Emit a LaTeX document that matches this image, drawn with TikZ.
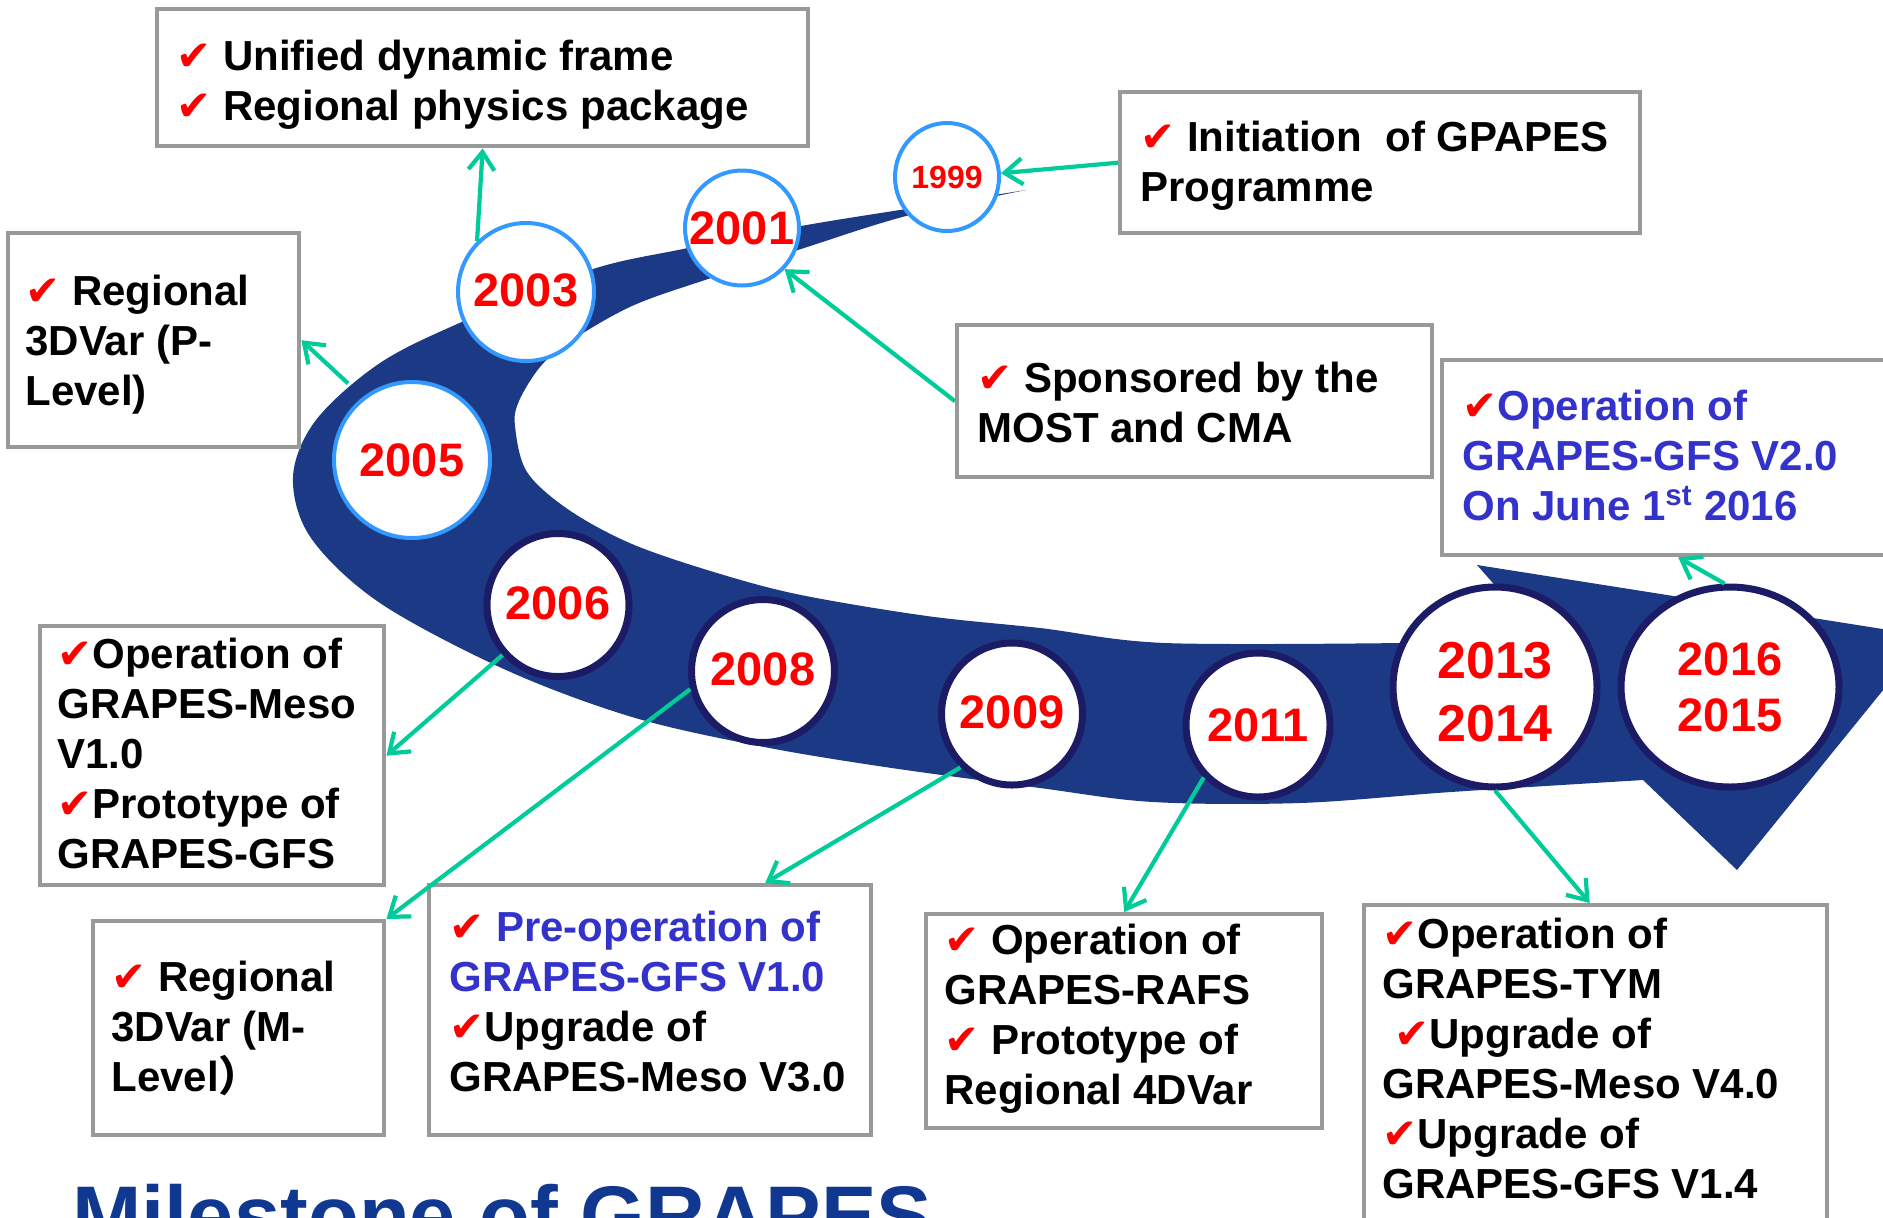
\documentclass[tikz,border=0pt]{standalone}
\usepackage{fontspec}
\setmainfont{Liberation Sans}
\newfontfamily\symfont{DejaVu Sans}
\newfontfamily\cjk{Noto Sans CJK SC}
\usetikzlibrary{shapes.geometric,arrows.meta}
\definecolor{bandblue}{RGB}{27,57,133}
\definecolor{ltblue}{RGB}{51,153,255}
\definecolor{navyc}{RGB}{28,28,102}
\definecolor{tealc}{RGB}{0,204,153}
\definecolor{boxgray}{RGB}{153,153,153}
\definecolor{blu}{RGB}{51,51,204}
\definecolor{titleblue}{RGB}{17,56,145}
\definecolor{ckred}{RGB}{255,0,0}
\newcommand\ck{{\symfont\mdseries\color{ckred}✔}}
\begin{document}
\begin{tikzpicture}[x=0.5pt,y=-0.5pt,
  box/.style={draw=boxgray, line width=2.2pt, fill=white, inner sep=0pt, anchor=north west},
  txt/.style={anchor=north west, inner sep=0pt, align=left, font=\bfseries\fontsize{21}{25}\selectfont},
  yr/.style={ellipse, fill=white, inner sep=-15pt, text=ckred, align=center, font=\bfseries\fontsize{23.5}{28}\selectfont},
  early/.style={yr, draw=ltblue, line width=2pt},
  late/.style={yr, draw=navyc, line width=3.5pt},
  arr/.style={draw=tealc, line width=2.1pt, -{Straight Barb[length=9pt,width=13pt]}}]
\useasboundingbox (0,0) rectangle (1883,1217);
\clip (0,0) rectangle (1883,1217);
\fill[white] (0,0) rectangle (1883,1217);

% swoosh band
\fill[bandblue] plot[smooth, tension=0.55] coordinates {(1026,190) (906,209) (801,226) (683,249) (590,270) (464,321) (380,363) (316,420) (293,477) (311,538) (380,603) (506,670) (632,717) (759,746) (885,767) (1040,788) (1153,802) (1300,803) (1451,792) (1643,780)}
  -- (1737,870) -- (1927,636) -- (1477,565) -- (1545,642)
  -- plot[smooth, tension=0.55] coordinates {(1402,643) (1165,643) (1040,628) (927,616) (801,595) (717,573) (632,544) (569,510) (527,472) (515,426) (519,401) (540,367) (569,342) (632,306) (708,279) (801,249) (906,216) (1026,190)} -- cycle;

% boxes
\node[box, minimum width=325.5pt, minimum height=68.5pt] (bA) at (155,7) {};
\node[box, minimum width=145.5pt, minimum height=107pt] (bB) at (6,231) {};
\node[box, minimum width=260pt, minimum height=70.5pt] (bC) at (1118,90) {};
\node[box, minimum width=237.5pt, minimum height=76pt] (bD) at (955,323) {};
\node[box, minimum width=236pt, minimum height=97.5pt] (bE) at (1440,358) {};
\node[box, minimum width=172pt, minimum height=129.5pt] (bF) at (38,624) {};
\node[box, minimum width=145.5pt, minimum height=107pt] (bG) at (91,919) {};
\node[box, minimum width=221pt, minimum height=125pt] (bH) at (427,883) {};
\node[box, minimum width=198pt, minimum height=107pt] (bI) at (924,912) {};
\node[box, minimum width=231.5pt, minimum height=168.5pt] (bJ) at (1362,903) {};

% year circles
\node[early, minimum width=52pt, minimum height=54pt, font=\bfseries\fontsize{16}{19}\selectfont] (c1999) at (947,177) {1999};
\node[early, minimum width=57pt, minimum height=57.5pt] (c2001) at (742,228) {2001};
\node[early, minimum width=68pt, minimum height=69pt] (c2003) at (526,292) {\raisebox{2pt}{2003}};
\node[early, minimum width=78pt, minimum height=78pt] (c2005) at (412,460) {\raisebox{-4pt}{2005}};
\node[late, minimum width=71pt, minimum height=71.5pt] (c2006) at (558,605) {\raisebox{2pt}{2006}};
\node[late, minimum width=71.5pt, minimum height=71.5pt] (c2008) at (763,671) {\raisebox{2pt}{2008}};
\node[late, minimum width=70.5pt, minimum height=71pt] (c2009) at (1012,714) {\raisebox{2pt}{2009}};
\node[late, minimum width=72pt, minimum height=72pt] (c2011) at (1258,725) {2011};
\node[late, minimum width=102pt, minimum height=100pt, font=\bfseries\fontsize{26}{31.5}\selectfont] (c2013) at (1495,687) {\rule{0pt}{23.6pt}2013\\2014};
\node[late, minimum width=109pt, minimum height=100pt, font=\bfseries\fontsize{23.5}{28}\selectfont] (c2016) at (1730,687) {2016\\2015};

% connectors
\draw[arr] (c2003.134) -- (bA.south);
\draw[arr, shorten <=10pt] (c2005.128) -- (bB.east);
\draw[arr] (bC.west) -- (c1999.4);
\draw[arr] (bD.west) -- (c2001.-44);
\draw[arr] (c2016.93) -- (bE.south);
\draw[arr] (c2006.222) -- (bF.east);
\draw[arr] (c2008.194) -- (bG.north east);
\draw[arr] (c2009.226) -- ([xshift=57.5pt]bH.north);
\draw[arr] (c2011.224) -- (bI.north);
\draw[arr] (c2013.270) -- ([xshift=-3pt]bJ.north);

% box texts
\node[txt] (tA) at (176,34) {\rule{0pt}{18pt}\ck{} Unified dynamic frame\\\ck{} Regional physics package};
\node[txt] (tB) at (25,269) {\rule{0pt}{18pt}\ck{} Regional\\3DVar (P-\\Level)};
\node[txt] (tC) at (1140,115) {\rule{0pt}{18pt}\ck{} Initiation\ \ of GPAPES\\Programme};
\node[txt] (tD) at (977,356) {\rule{0pt}{18pt}\ck{} Sponsored by the\\MOST and CMA};
\node[txt, text=blu] (tE) at (1462,384) {\rule{0pt}{18pt}\ck{}Operation of\\GRAPES-GFS V2.0\\On June 1\textsuperscript{st} 2016};
\node[txt] (tF) at (57,632) {\rule{0pt}{18pt}\ck{}Operation of\\GRAPES-Meso\\V1.0\\\ck{}Prototype of\\GRAPES-GFS};
\node[txt] (tG) at (111,955) {\rule{0pt}{18pt}\ck{} Regional\\3DVar (M-\\Level{\cjk ）}};
\node[txt] (tH) at (449,905) {\rule{0pt}{18pt}\ck{} {\color{blu}Pre-operation of}\\{\color{blu}GRAPES-GFS V1.0}\\\ck{}Upgrade of\\GRAPES-Meso V3.0};
\node[txt] (tI) at (944,918) {\rule{0pt}{18pt}\ck{} Operation of\\GRAPES-RAFS\\\ck{} Prototype of\\Regional 4DVar};
\node[txt] (tJ) at (1382,912) {\rule{0pt}{18pt}\ck{}Operation of\\GRAPES-TYM\\\hspace*{6pt}\ck{}Upgrade of\\GRAPES-Meso V4.0\\\ck{}Upgrade of\\GRAPES-GFS V1.4};

% title
\node[anchor=base west, inner sep=0pt, text=titleblue, font=\bfseries\fontsize{41.6}{48}\selectfont] (title) at (72,1244) {Milestone of GRAPES};
\end{tikzpicture}
\end{document}
